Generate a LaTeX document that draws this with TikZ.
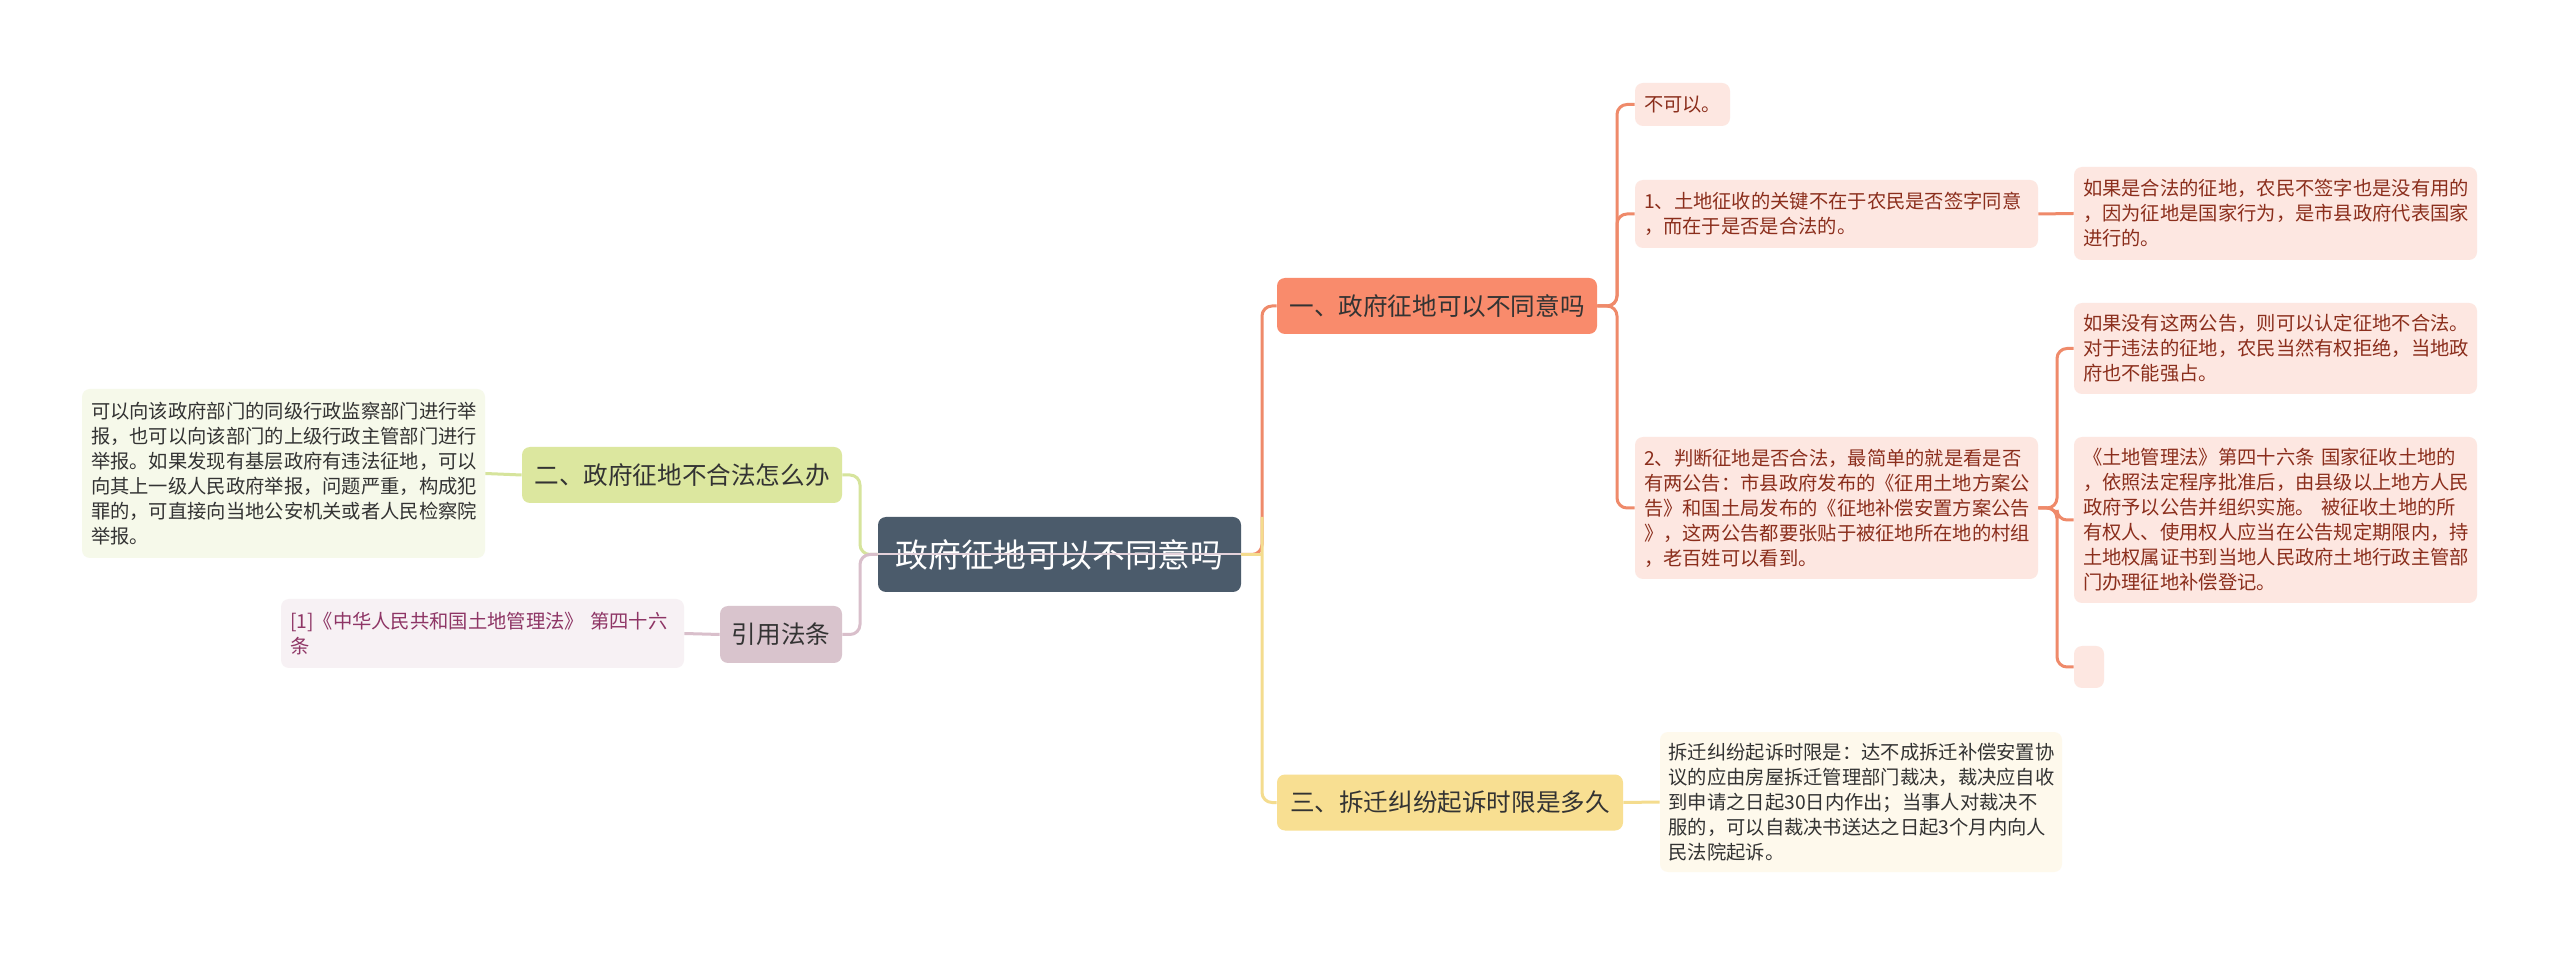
\documentclass[tikz,border=0pt]{standalone}
\usepackage{fontspec}
\setmainfont{Noto Sans CJK SC}
\definecolor{rootc}{HTML}{4B5B6B}
\definecolor{oranc}{HTML}{F98B6C}
\definecolor{oranl}{HTML}{EF8A6A}
\definecolor{oranf}{HTML}{FDE7E1}
\definecolor{orant}{HTML}{8B2E1C}
\definecolor{yelc}{HTML}{F8DF92}
\definecolor{yell}{HTML}{F4DC8E}
\definecolor{yelf}{HTML}{FEF9EC}
\definecolor{grnc}{HTML}{DCE79F}
\definecolor{grnl}{HTML}{D6E49C}
\definecolor{grnf}{HTML}{F6F9EA}
\definecolor{pnkc}{HTML}{D9C4CD}
\definecolor{pnkl}{HTML}{D9BFCB}
\definecolor{pnkf}{HTML}{F7F1F4}
\definecolor{pnkt}{HTML}{8E3565}
\definecolor{darkt}{HTML}{333333}
\tikzset{
  box/.style 2 args={rounded corners=4pt, inner sep=0pt, align=left,
    minimum width=#1, minimum height=#2},
  cbox/.style 2 args={rounded corners=4pt, inner sep=0pt, align=center,
    minimum width=#1, minimum height=#2},
  wide/.style={text width=192.5pt},
  rootbox/.style={fill=rootc, text=white, font=\fontsize{16.4}{20}\selectfont},
  brbox/.style={text=darkt, font=\fontsize{12.3}{15}\selectfont},
  leaf/.style={font=\fontsize{9.65}{12.5}\selectfont},
  conn/.style={line width=1.5pt, rounded corners=5pt},
}
\begin{document}
\begin{tikzpicture}[x=0.5pt,y=-0.5pt]
\useasboundingbox (0,0) rectangle (2560,956);
\fill[white] (0,0) rectangle (2560,956);

% root
\node[cbox={181.5pt}{37.5pt}, rootbox] (root) at (1059.5,554.5) {政府征地可以不同意吗};

% main branches
\node[cbox={160pt}{28pt}, brbox, fill=oranc] (b1) at (1437,306) {一、政府征地可以不同意吗};
\node[cbox={173pt}{28pt}, brbox, fill=yelc] (b3) at (1450,802.5) {三、拆迁纠纷起诉时限是多久};
\node[cbox={160pt}{28pt}, brbox, fill=grnc] (b2) at (682,475) {二、政府征地不合法怎么办};
\node[cbox={61pt}{28.5pt}, brbox, fill=pnkc] (b4) at (781,634.5) {引用法条};

% children of branch 1
\node[box={47.5pt}{21.5pt}, text width=38.5pt, leaf, fill=oranf, text=orant] (c0) at (1682.5,104.5) {不可以。};
\node[box={201.5pt}{34pt}, wide, leaf, fill=oranf, text=orant] (c1) at (1836.5,214) {1、土地征收的关键不在于农民是否签字同意\\，而在于是否是合法的。};
\node[box={201.5pt}{71pt}, wide, leaf, fill=oranf, text=orant] (c2) at (1836.5,508) {2、判断征地是否合法，最简单的就是看是否\\有两公告：市县政府发布的《征用土地方案公\\告》和国土局发布的《征地补偿安置方案公告\\》，这两公告都要张贴于被征地所在地的村组\\，老百姓可以看到。};
\node[box={201.5pt}{46.5pt}, wide, leaf, fill=oranf, text=orant] (d0) at (2275.5,213.5) {如果是合法的征地，农民不签字也是没有用的\\，因为征地是国家行为，是市县政府代表国家\\进行的。};
\node[box={201.5pt}{45.5pt}, wide, leaf, fill=oranf, text=orant] (d1) at (2275.5,348.5) {如果没有这两公告，则可以认定征地不合法。\\对于违法的征地，农民当然有权拒绝，当地政\\府也不能强占。};
\node[box={201.5pt}{83pt}, wide, leaf, fill=oranf, text=orant] (d2) at (2275.5,520) {《土地管理法》第四十六条 国家征收土地的\\，依照法定程序批准后，由县级以上地方人民\\政府予以公告并组织实施。 被征收土地的所\\有权人、使用权人应当在公告规定期限内，持\\土地权属证书到当地人民政府土地行政主管部\\门办理征地补偿登记。};
\node[cbox={15pt}{21pt}, fill=oranf] (d3) at (2089,667) {};

% child of branch 3
\node[box={201pt}{70pt}, wide, leaf, fill=yelf, text=darkt] (e0) at (1861,802) {拆迁纠纷起诉时限是：达不成拆迁补偿安置协\\议的应由房屋拆迁管理部门裁决，裁决应自收\\到申请之日起30日内作出；当事人对裁决不\\服的，可以自裁决书送达之日起3个月内向人\\民法院起诉。};

% child of branch 2
\node[box={201.5pt}{84.5pt}, wide, leaf, fill=grnf, text=darkt] (f0) at (283.5,473.5) {可以向该政府部门的同级行政监察部门进行举\\报，也可以向该部门的上级行政主管部门进行\\举报。如果发现有基层政府有违法征地，可以\\向其上一级人民政府举报，问题严重，构成犯\\罪的，可直接向当地公安机关或者人民检察院\\举报。};

% child of branch 4
\node[box={201.5pt}{34.5pt}, wide, leaf, fill=pnkf, text=pnkt] (g0) at (482.5,633.5) {[1]《中华人民共和国土地管理法》 第四十六\\条};

% junction coordinates
\coordinate (rj) at (1262,554.5);
\coordinate (rj2) at (1262,517);
\coordinate (lj) at (860,554.5);
\coordinate (oj) at (1617,306);
\coordinate (pj) at (2057,508);

% right main connectors
\draw[conn, oranl] (root.east) -- (rj) |- (b1.west);
\draw[conn, yell] (rj2) |- (b3.west);
\draw[conn, yell] (root.east) -- (rj);
% left main connectors
\draw[conn, grnl] (b2.east) -| (lj) -- (root.west);
\draw[conn, pnkl] (b4.east) -| (lj) -- (root.west);
\draw[line width=1pt, pnkl!70!white] (root.west) -- (root.east);

% branch 1 children
\draw[conn, oranl] (b1.east) -- (oj) |- (c0.west);
\draw[conn, oranl] (b1.east) -- (oj) |- (c1.west);
\draw[conn, oranl] (b1.east) -- (oj) |- (c2.west);
\draw[conn, oranl] (c1.east) -- (d0.west);
\draw[conn, oranl] (c2.east) -- (pj) |- (d1.west);
\draw[conn, oranl] (c2.east) -- (pj) |- (d2.west);
\draw[conn, oranl] (c2.east) -- (pj) |- (d3.west);

% other leaves
\draw[conn, yell] (b3.east) -- (e0.west);
\draw[conn, grnl] (b2.west) -- (f0.east);
\draw[conn, pnkl] (b4.west) -- (g0.east);
\end{tikzpicture}
\end{document}
